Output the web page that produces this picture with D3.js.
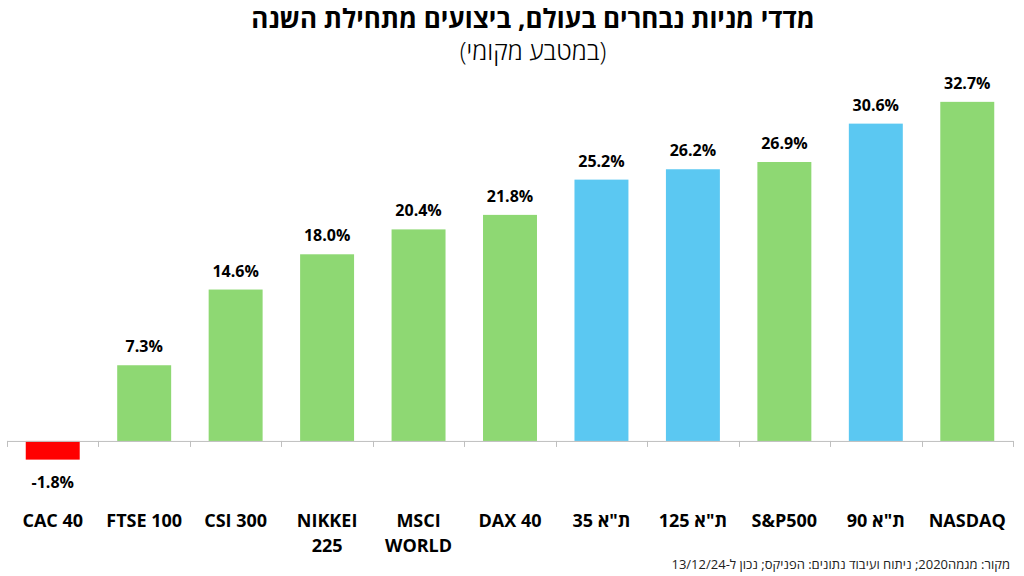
<!DOCTYPE html>
<html><head><meta charset="utf-8">
<script src="https://cdn.jsdelivr.net/npm/d3@7"></script>
<style>
html,body{margin:0;padding:0;background:#fff;}
text{font-family:"Open Sans","DejaVu Sans",sans-serif;}
</style></head>
<body>
<svg id="chart" width="1024" height="576"></svg>
<script>
const categories = ["CAC 40","FTSE 100","CSI 300","NIKKEI 225","MSCI WORLD","DAX 40","ת\"א 35","ת\"א 125","S&P500","ת\"א 90","NASDAQ"];
const labelLines = [["CAC 40"],["FTSE 100"],["CSI 300"],["NIKKEI","225"],["MSCI","WORLD"],["DAX 40"],["ת\"א 35"],["ת\"א 125"],["S&P500"],["ת\"א 90"],["NASDAQ"]];
const values = [-1.8, 7.3, 14.6, 18.0, 20.4, 21.8, 25.2, 26.2, 26.9, 30.6, 32.7];
const groups = ["neg","global","global","global","global","global","il","il","global","il","global"];
const title = "מדדי מניות נבחרים בעולם, ביצועים מתחילת השנה";
const subtitle = "(במטבע מקומי)";
const source = "מקור: מגמה2020; ניתוח ועיבוד נתונים: הפניקס; נכון ל-13/12/24";

const colors = {neg:"#FF0000", global:"#8ED873", il:"#5BC8F2"};
const svg = d3.select("#chart");

const x = d3.scaleBand().domain(categories).range([7,1013]).paddingInner(0.41).paddingOuter(0.205);
const y = d3.scaleLinear().domain([-5,35]).range([492.8,78]);

svg.append("text").attr("x",533).attr("y",28).attr("text-anchor","middle")
  .attr("direction","rtl").style("font-size","26px").style("font-weight","700").attr("fill","#000").text(title);
svg.append("text").attr("x",533).attr("y",60).attr("text-anchor","middle")
  .attr("direction","rtl").style("font-size","25px").style("font-weight","300").attr("fill","#000").text(subtitle);

svg.selectAll("rect.bar").data(values).join("rect").attr("class","bar")
  .attr("x",(d,i)=>x(categories[i]))
  .attr("width",x.bandwidth())
  .attr("y",d=>y(Math.max(0,d)))
  .attr("height",d=>Math.abs(y(d)-y(0)))
  .attr("fill",(d,i)=>colors[groups[i]]);

// axis
const step = x.step();
const x0 = x.range()[0];
const ax = svg.append("g").attr("stroke","#BFBFBF").attr("stroke-width",1);
ax.append("line").attr("x1",x0).attr("x2",x.range()[1]).attr("y1",y(0)+0.5).attr("y2",y(0)+0.5);
d3.range(categories.length+1).forEach(i=>{
  const xx = Math.round(x0+i*step)+0.5;
  ax.append("line").attr("x1",xx).attr("x2",xx).attr("y1",y(0)).attr("y2",y(0)+6);
});

svg.selectAll("text.val").data(values).join("text").attr("class","val")
  .attr("x",(d,i)=>x(categories[i])+x.bandwidth()/2)
  .attr("y",d=>d>=0? y(d)-13 : y(d)+28)
  .attr("text-anchor","middle").style("font-size","16px").style("font-weight","700").attr("fill","#000")
  .text(d=>d.toFixed(1)+"%");

labelLines.forEach((lines,i)=>{
  const t = svg.append("text").attr("x",x(categories[i])+x.bandwidth()/2).attr("y",527)
    .attr("text-anchor","middle").style("font-size","18px").style("font-weight","700").attr("fill","#000");
  lines.forEach((l,j)=>{
    t.append("tspan").attr("x",x(categories[i])+x.bandwidth()/2).attr("dy",j===0?0:25).text(l);
  });
});

svg.append("text").attr("x",1010).attr("y",569).attr("text-anchor","start")
  .attr("direction","rtl").style("font-size","13px").attr("fill","#222").text(source);
</script>
</body></html>
